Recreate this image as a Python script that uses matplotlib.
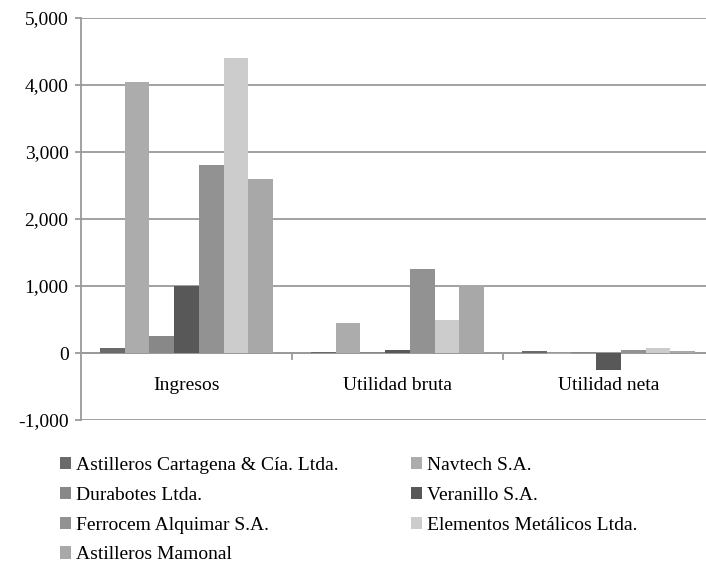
import numpy as np
import matplotlib
matplotlib.use("Agg")
import matplotlib.pyplot as plt
from matplotlib.ticker import FuncFormatter

plt.rcParams['font.family'] = ['Liberation Serif', 'DejaVu Serif']

categories = ["Ingresos", "Utilidad bruta", "Utilidad neta"]
companies = [
    "Astilleros Cartagena & Cía. Ltda.",
    "Navtech S.A.",
    "Durabotes Ltda.",
    "Veranillo S.A.",
    "Ferrocem Alquimar S.A.",
    "Elementos Metálicos Ltda.",
    "Astilleros Mamonal",
]
cartagena = [75, 10, 25]
navtech = [4050, 450, -20]
durabotes = [250, 20, 10]
veranillo = [1000, 40, -250]
ferrocem = [2800, 1250, 40]
elementos = [4400, 500, 80]
mamonal = [2600, 1020, 35]
colors = ["#6a6a6a", "#acacac", "#888888", "#585858", "#929292", "#cccccc", "#a8a8a8"]

series = [cartagena, navtech, durabotes, veranillo, ferrocem, elementos, mamonal]

fig = plt.figure(figsize=(7.06, 5.72), dpi=100)
ax = fig.add_axes([81 / 706, 152 / 572, 633 / 706, 402 / 572])

x = np.arange(len(categories))
n = len(series)
bw = 0.82 / n
bars = []
for i, (vals, c) in enumerate(zip(series, colors)):
    b = ax.bar(x - 0.41 + bw * (i + 0.5), vals, bw, color=c, zorder=3, label=companies[i])
    bars.append(b)

ax.set_xlim(-0.5, 2.5)
ax.set_ylim(-1000, 5000)
ax.set_yticks(range(-1000, 5001, 1000))
ax.yaxis.set_major_formatter(FuncFormatter(lambda v, p: f"{int(v):,}"))
ax.grid(axis='y', color='#9a9a9a', linewidth=1.3, zorder=0)
ax.axhline(0, color='#9a9a9a', linewidth=1.3, zorder=2)

for s in ['top', 'right', 'bottom']:
    ax.spines[s].set_visible(False)
ax.spines['left'].set_color('#9a9a9a')
ax.spines['left'].set_linewidth(1.3)

ax.set_xticks([])
ax.tick_params(axis='y', length=4, color='#9a9a9a', width=1.3, labelsize=14, pad=5)

# category labels sit just under the zero line
for xi, cat in zip(x, categories):
    ax.text(xi, -480, cat, ha='center', va='center', fontsize=14)

# category separators on the zero line
for sep in [0.5, 1.5]:
    ax.plot([sep, sep], [0, -90], color='#9a9a9a', linewidth=1.3, zorder=2)

order = [0, 2, 4, 6, 1, 3, 5]
fig.legend([bars[i] for i in order], [companies[i] for i in order],
           ncol=2, loc='upper left', bbox_to_anchor=(52 / 706, 1 - 449 / 572),
           frameon=False, fontsize=14, handlelength=0.6, handleheight=0.6,
           handletextpad=0.25, columnspacing=3.7, labelspacing=0.66,
           borderaxespad=0)

fig.savefig("out.png", dpi=100)
